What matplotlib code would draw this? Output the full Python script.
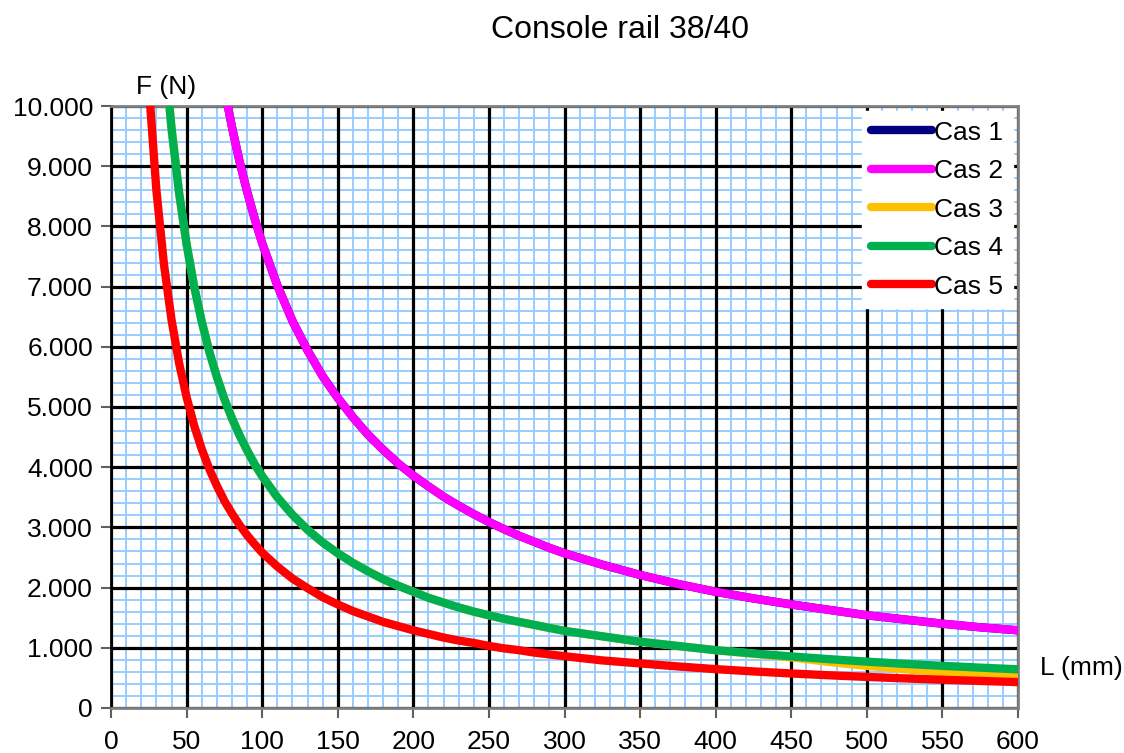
import matplotlib
matplotlib.use("Agg")
import matplotlib.pyplot as plt
from matplotlib.ticker import MultipleLocator, FuncFormatter

plt.rcParams["font.family"] = ["Liberation Sans", "DejaVu Sans"]

# longueur (mm)
L = [20, 25, 30, 35, 40, 45, 50, 55, 60, 65, 70, 75, 80, 85, 90, 95,
     100, 110, 120, 130, 140, 150, 160, 170, 180, 190,
     200, 210, 220, 230, 240, 250, 260, 270, 280, 290,
     300, 325, 350, 375, 400, 425, 450, 475, 500, 525, 550, 575, 600]

# force admissible (N)
cas2 = [38600, 30880, 25730, 22060, 19300, 17160, 15440, 14040, 12870, 11880, 11030, 10290,
        9650, 9080, 8580, 8130,
        7720, 7020, 6430, 5940, 5510, 5150, 4830, 4540, 4290, 4060,
        3860, 3680, 3510, 3360, 3220, 3090, 2970, 2860, 2760, 2660,
        2570, 2380, 2210, 2060, 1930, 1820, 1720, 1630, 1540, 1470, 1400, 1340, 1290]
cas1 = list(cas2)  # confondu avec Cas 2
cas4 = [19250, 15400, 12830, 11000, 9630, 8560, 7700, 7000, 6420, 5920, 5500, 5130,
        4810, 4530, 4280, 4050,
        3850, 3500, 3210, 2960, 2750, 2570, 2410, 2270, 2140, 2030,
        1930, 1830, 1750, 1670, 1600, 1540, 1480, 1430, 1380, 1330,
        1280, 1190, 1100, 1030, 960, 906, 856, 811, 770, 733, 700, 670, 642]
cas3 = [19250, 15400, 12830, 11000, 9630, 8560, 7700, 7000, 6420, 5920, 5500, 5130,
        4810, 4530, 4280, 4050,
        3850, 3500, 3210, 2960, 2750, 2570, 2410, 2270, 2140, 2030,
        1930, 1830, 1750, 1670, 1600, 1540, 1480, 1430, 1380, 1330,
        1280, 1190, 1100, 1030, 960, 900, 840, 765, 700, 645, 600, 555, 515]
cas5 = [12900, 10320, 8600, 7370, 6450, 5730, 5160, 4690, 4300, 3970, 3690, 3440,
        3230, 3040, 2870, 2720,
        2580, 2350, 2150, 1990, 1840, 1720, 1610, 1520, 1430, 1360,
        1290, 1230, 1170, 1120, 1080, 1030, 990, 960, 920, 890,
        860, 790, 740, 690, 645, 607, 573, 543, 516, 491, 469, 449, 430]

series = [("Cas 1", cas1, "#000080"),
          ("Cas 2", cas2, "#FF00FF"),
          ("Cas 3", cas3, "#FFC000"),
          ("Cas 4", cas4, "#00B050"),
          ("Cas 5", cas5, "#FF0000")]

fig = plt.figure(figsize=(11.24, 7.53), dpi=100)
ax = fig.add_axes([0.0988, 0.0598, 0.8069, 0.7994])

for name, vals, col in series:
    ax.plot(L, vals, color=col, lw=6, label=name, solid_capstyle="round",
            solid_joinstyle="round", zorder=3)

ax.set_xlim(0, 600)
ax.set_ylim(0, 10000)

ax.xaxis.set_major_locator(MultipleLocator(50))
ax.xaxis.set_minor_locator(MultipleLocator(10))
ax.yaxis.set_major_locator(MultipleLocator(1000))
ax.yaxis.set_minor_locator(MultipleLocator(200))
ax.yaxis.set_major_formatter(FuncFormatter(lambda v, p: f"{int(v):,}".replace(",", ".")))

# quadrillage : fin en bleu, principal en noir par-dessus
ax.grid(which="minor", color="#99CCFF", lw=1.4)
ax.set_axisbelow(True)
for xv in ax.get_xticks()[1:-1]:
    ax.axvline(xv, color="black", lw=2.3, zorder=1)
for yv in ax.get_yticks()[1:-1]:
    ax.axhline(yv, color="black", lw=2.3, zorder=1)

for s in ax.spines.values():
    s.set_color("#808080")
    s.set_linewidth(2)
ax.spines["left"].set_color("black")

ax.tick_params(which="major", direction="out", length=7, width=1.5, color="#606060",
               labelsize=19)
ax.tick_params(axis="x", pad=9)
ax.tick_params(axis="y", pad=6)
ax.tick_params(which="minor", length=0)

leg = ax.legend(loc="upper right", fontsize=19, frameon=True, fancybox=False,
                borderaxespad=0.2, handlelength=2.3, handletextpad=0.1,
                labelspacing=0.55, borderpad=0.35)
leg.get_frame().set_edgecolor("white")
leg.get_frame().set_facecolor("white")
leg.get_frame().set_alpha(1)
leg.set_zorder(5)
for h in leg.get_lines():
    h.set_linewidth(6)
    h.set_solid_capstyle("round")

fig.text(0.552, 0.96, "Console rail 38/40", fontsize=23, ha="center", va="center")
fig.text(0.148, 0.884, "F (N)", fontsize=19, ha="center", va="center")
fig.text(0.962, 0.113, "L (mm)", fontsize=19, ha="center", va="center")

fig.savefig("out.png", dpi=100)
